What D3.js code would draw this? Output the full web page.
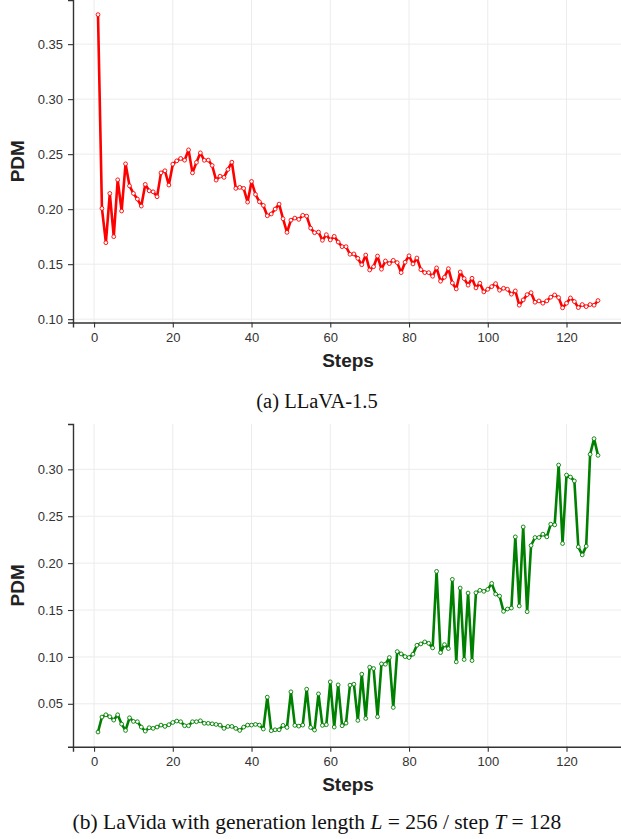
<!DOCTYPE html>
<head>
  <meta charset="UTF-8">
  <title>PDM</title>
  <style>
  body, html, svg{
    padding: 0;
    margin: 0;
  }
  body{
    background: #fff;
  }
  </style>
</head>
<body>
  <script src="https://cdn.jsdelivr.net/npm/d3@7"></script>
  <script type="text/javascript">
  var width = 621;
  var height = 839;

  // data, steps 1..128
  var llavaPdm = [
    0.3768, 0.2007, 0.1695, 0.2143, 0.1750, 0.2267, 0.1983, 0.2412, 0.2212, 0.2143,
    0.2092, 0.2028, 0.2225, 0.2167, 0.2158, 0.2113, 0.2330, 0.2349, 0.2219, 0.2409,
    0.2439, 0.2461, 0.2445, 0.2539, 0.2330, 0.2425, 0.2512, 0.2444, 0.2446, 0.2397,
    0.2264, 0.2300, 0.2289, 0.2361, 0.2427, 0.2189, 0.2198, 0.2189, 0.2064, 0.2252,
    0.2134, 0.2067, 0.2034, 0.1940, 0.1956, 0.2001, 0.2046, 0.1913, 0.1789, 0.1900,
    0.1919, 0.1907, 0.1944, 0.1937, 0.1828, 0.1786, 0.1792, 0.1717, 0.1768, 0.1720,
    0.1753, 0.1701, 0.1659, 0.1659, 0.1590, 0.1593, 0.1553, 0.1495, 0.1583, 0.1447,
    0.1477, 0.1574, 0.1454, 0.1529, 0.1505, 0.1535, 0.1514, 0.1423, 0.1518, 0.1576,
    0.1502, 0.1556, 0.1450, 0.1423, 0.1423, 0.1390, 0.1466, 0.1345, 0.1381, 0.1459,
    0.1329, 0.1275, 0.1429, 0.1369, 0.1309, 0.1372, 0.1284, 0.1327, 0.1248, 0.1272,
    0.1296, 0.1323, 0.1263, 0.1281, 0.1272, 0.1227, 0.1257, 0.1127, 0.1175, 0.1223,
    0.1241, 0.1154, 0.1166, 0.1145, 0.1166, 0.1200, 0.1220, 0.1196, 0.1103, 0.1145,
    0.1193, 0.1160, 0.1105, 0.1133, 0.1114, 0.1133, 0.1127, 0.1169
  ];

  var lavidaPdm = [
    0.0199, 0.0359, 0.0383, 0.0362, 0.0326, 0.0383, 0.0284, 0.0216, 0.0351, 0.0312,
    0.0309, 0.0252, 0.0209, 0.0245, 0.0238, 0.0252, 0.0273, 0.0259, 0.0277, 0.0301,
    0.0316, 0.0309, 0.0266, 0.0266, 0.0309, 0.0309, 0.0319, 0.0292, 0.0292, 0.0287,
    0.0280, 0.0273, 0.0238, 0.0259, 0.0259, 0.0238, 0.0216, 0.0252, 0.0273, 0.0273,
    0.0280, 0.0273, 0.0231, 0.0571, 0.0213, 0.0223, 0.0223, 0.0270, 0.0248, 0.0628,
    0.0270, 0.0262, 0.0273, 0.0656, 0.0248, 0.0220, 0.0606, 0.0270, 0.0277, 0.0734,
    0.0252, 0.0702, 0.0266, 0.0294, 0.0699, 0.0709, 0.0323, 0.0816, 0.0344, 0.0890,
    0.0876, 0.0362, 0.0926, 0.0922, 0.0993, 0.0461, 0.1057, 0.1032, 0.1003, 0.0993,
    0.1029, 0.1124, 0.1138, 0.1160, 0.1145, 0.1096, 0.1912, 0.1046, 0.1131, 0.1089,
    0.1827, 0.0947, 0.1734, 0.0972, 0.1681, 0.0961, 0.1684, 0.1710, 0.1699, 0.1720,
    0.1784, 0.1670, 0.1649, 0.1486, 0.1511, 0.1521, 0.2280, 0.1543, 0.2386, 0.1482,
    0.2188, 0.2273, 0.2273, 0.2309, 0.2280, 0.2415, 0.2408, 0.3046, 0.2209, 0.2939,
    0.2918, 0.2876, 0.2173, 0.2088, 0.2181, 0.3160, 0.3327, 0.3149
  ];

  var stepTicks = [0, 20, 40, 60, 80, 100, 120];
  var llavaTicks = [0.10, 0.15, 0.20, 0.25, 0.30, 0.35];
  var lavidaTicks = [0.05, 0.10, 0.15, 0.20, 0.25, 0.30];

  var svg = d3.select('body')
    .append('svg')
    .attr('width', width)
    .attr('height', height);

  // matplotlib style 5% margins
  function padded(lo, hi){
    var p = (hi - lo) * 0.05;
    return [lo - p, hi + p];
  }

  var x = d3.scaleLinear()
    .domain(padded(1, 128))
    .range([73, 623]);

  function drawPanel(values, ticks, top, bottom, color, caption){
    var y = d3.scaleLinear()
      .domain(padded(d3.min(values), d3.max(values)))
      .range([bottom, top]);
    var pts = values.map(function(v, i){ return [i + 1, v]; });
    var g = svg.append('g');

    //网格
    g.selectAll('.vgrid').data(stepTicks).enter()
      .append('line')
      .attr('x1', function(d){ return x(d); })
      .attr('x2', function(d){ return x(d); })
      .attr('y1', top).attr('y2', bottom)
      .attr('stroke', '#ececec').attr('stroke-width', 1);
    g.selectAll('.hgrid').data(ticks).enter()
      .append('line')
      .attr('x1', 73).attr('x2', 623)
      .attr('y1', function(d){ return y(d); })
      .attr('y2', function(d){ return y(d); })
      .attr('stroke', '#ececec').attr('stroke-width', 1);

    //坐标轴
    var xAxis = g.append('g')
      .attr('transform', 'translate(0,' + bottom + ')')
      .call(d3.axisBottom(x).tickValues(stepTicks).tickSizeOuter(0).tickSize(5).tickPadding(5));
    var yAxis = g.append('g')
      .attr('transform', 'translate(73,0)')
      .call(d3.axisLeft(y).tickValues(ticks).tickFormat(d3.format('.2f')).tickSizeOuter(0).tickSize(5).tickPadding(5));
    [xAxis, yAxis].forEach(function(a){
      a.select('.domain').attr('stroke', '#333').attr('stroke-width', 1.4);
      a.selectAll('.tick line').attr('stroke', '#333').attr('stroke-width', 1.1);
      a.selectAll('.tick text')
        .attr('fill', '#333')
        .style('font-family', '"Liberation Sans", Arial, sans-serif')
        .style('font-size', '13px');
    });

    //折线
    g.append('path')
      .datum(pts)
      .attr('d', d3.line().x(function(d){ return x(d[0]); }).y(function(d){ return y(d[1]); }))
      .attr('fill', 'none')
      .attr('stroke', color)
      .attr('stroke-width', 2.6)
      .attr('stroke-linejoin', 'round');
    g.selectAll('.dot').data(pts).enter()
      .append('circle')
      .attr('cx', function(d){ return x(d[0]); })
      .attr('cy', function(d){ return y(d[1]); })
      .attr('r', 1.9)
      .attr('fill', '#fff')
      .attr('stroke', color)
      .attr('stroke-width', 0.9);

    //标签
    g.append('text')
      .attr('x', 348).attr('y', bottom + 44.5)
      .attr('text-anchor', 'middle')
      .style('font-family', '"Liberation Sans", Arial, sans-serif')
      .style('font-size', '19px').style('font-weight', 'bold')
      .attr('fill', '#222')
      .text('Steps');
    g.append('text')
      .attr('transform', 'translate(24,' + (top + bottom) / 2 + ') rotate(-90)')
      .attr('text-anchor', 'middle')
      .style('font-family', '"Liberation Sans", Arial, sans-serif')
      .style('font-size', '19px').style('font-weight', 'bold')
      .attr('fill', '#222')
      .text('PDM');

    var cap = g.append('text')
      .attr('x', 317).attr('y', bottom + caption.dy)
      .attr('text-anchor', 'middle')
      .style('font-family', '"Liberation Serif", "Times New Roman", serif')
      .style('font-size', caption.size + 'px')
      .attr('fill', '#111');
    caption.parts.forEach(function(p){
      cap.append('tspan')
        .style('font-style', p.italic ? 'italic' : 'normal')
        .text(p.text);
    });
  }

  drawPanel(llavaPdm, llavaTicks, 0, 322.5, '#ff0000', {
    dy: 85,
    size: 20.5,
    parts: [{ text: '(a) LLaVA-1.5' }]
  });
  drawPanel(lavidaPdm, lavidaTicks, 424, 746.7, '#008000', {
    dy: 82.5,
    size: 21.5,
    parts: [
      { text: '(b) LaVida with generation length ' },
      { text: 'L', italic: true },
      { text: ' = 256 / step ' },
      { text: 'T', italic: true },
      { text: ' = 128' }
    ]
  });
  </script>
</body>
</html>
